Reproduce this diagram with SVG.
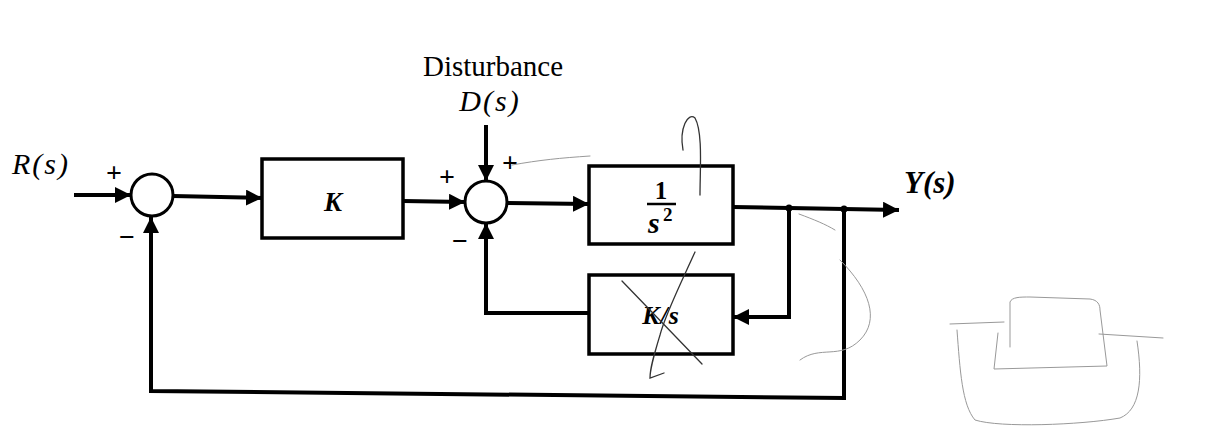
<svg xmlns="http://www.w3.org/2000/svg" width="1209" height="429" viewBox="0 0 1209 429">
<defs>
<marker id="ah" viewBox="0 0 16 16" refX="16" refY="8" markerWidth="16" markerHeight="16" markerUnits="userSpaceOnUse" orient="auto">
<path d="M0,0 L16,8 L0,16 Z" fill="#000"/>
</marker>
</defs>
<style>
.blk{fill:#fff;stroke:#000;stroke-width:3.5}
.sum{fill:#fff;stroke:#000;stroke-width:3}
.wire{fill:none;stroke:#000;stroke-width:4;stroke-linejoin:miter}
.arr{marker-end:url(#ah)}
.lbl{font-family:"Liberation Serif","Times New Roman",serif;fill:#000}
.it{font-style:italic}
.bi{font-style:italic;font-weight:bold}
.sign{font-family:"Liberation Serif","Times New Roman",serif;font-size:28px;font-weight:bold;fill:#000;text-anchor:middle}
.hand{fill:none;stroke:#333;stroke-width:1.3;stroke-linecap:round}
.faint{fill:none;stroke:#999;stroke-width:1;stroke-linecap:round}
</style>
<rect width="1209" height="429" fill="#fff"/>

<g id="connectors">
<line class="wire arr" x1="74" y1="195" x2="131" y2="195"/>
<line class="wire arr" x1="173" y1="196" x2="262" y2="198"/>
<line class="wire arr" x1="403" y1="201" x2="465" y2="202"/>
<line class="wire arr" x1="486" y1="125" x2="486" y2="181"/>
<line class="wire arr" x1="507" y1="203" x2="589" y2="204"/>
<line class="wire arr" x1="733" y1="207" x2="899" y2="210"/>
<polyline class="wire arr" points="789,208 789,317 733,317"/>
<polyline class="wire arr" points="589,313 486,313 486,223"/>
<polyline class="wire arr" points="844,209 844,398 151,391 151,217"/>
<circle cx="789" cy="208" r="3.5" fill="#000"/>
<circle cx="844" cy="209" r="3.5" fill="#000"/>
</g>

<g id="sum1">
<circle class="sum" cx="152" cy="195" r="21"/>
<text class="sign" x="114" y="182">+</text>
<text class="sign" x="127" y="246">−</text>
</g>

<g id="blockK">
<rect class="blk" x="262" y="159" width="141" height="79"/>
<text class="lbl bi" x="333" y="211" font-size="27" text-anchor="middle">K</text>
</g>

<g id="sum2">
<circle class="sum" cx="486" cy="202" r="21"/>
<text class="sign" x="447" y="186">+</text>
<text class="sign" x="510" y="172">+</text>
<text class="sign" x="460" y="250">−</text>
</g>

<g id="disturbance">
<text class="lbl" x="493" y="76" font-size="29" text-anchor="middle">Disturbance</text>
<text class="lbl it" x="490" y="111" font-size="30" letter-spacing="2" text-anchor="middle">D(s)</text>
</g>

<g id="plant">
<rect class="blk" x="589" y="166" width="144" height="78"/>
<text class="lbl" x="661" y="199" font-size="25" font-weight="bold" text-anchor="middle">1</text>
<line x1="647" y1="204" x2="676" y2="204" stroke="#000" stroke-width="2.5"/>
<text class="lbl bi" x="648" y="233" font-size="30">s</text>
<text class="lbl" x="663" y="221" font-size="19" font-weight="bold">2</text>
</g>

<g id="blockKs">
<rect class="blk" x="589" y="275" width="144" height="79"/>
<text class="lbl bi" x="661" y="324" font-size="26" text-anchor="middle" letter-spacing="1">K/s</text>
</g>

<g id="input">
<text class="lbl it" x="12" y="174" font-size="30" letter-spacing="2">R(s)</text>
</g>

<g id="output">
<text class="lbl bi" x="904" y="193" font-size="31">Y(s)</text>
</g>

<g id="annotations">
<path class="hand" d="M622,281 L702,364"/>
<path class="hand" d="M695,252 C680,285 665,315 660,335 C654,355 650,368 650,378 L664,373"/>
<path class="hand" d="M683,150 C679,128 688,112 695,118 C703,132 700,170 700,195"/>
<path class="faint" d="M512,165 C540,160 560,158 590,156"/>
<path class="faint" d="M1010,347 L1010,302 C1012,297 1020,297 1030,297 L1090,299 C1098,300 1100,305 1100,310 L1107,366 L994,369 L998,333"/>
<path class="faint" d="M950,324 L1004,322 M1099,334 L1163,338"/>
<path class="faint" d="M957,330 C960,370 962,405 975,420 C1000,428 1080,425 1120,418 C1140,410 1143,380 1137,341"/>
<path class="faint" d="M799,214 C815,220 825,224 835,230 M840,260 C870,290 880,320 860,340 C840,360 820,345 800,360"/>
</g>
</svg>
